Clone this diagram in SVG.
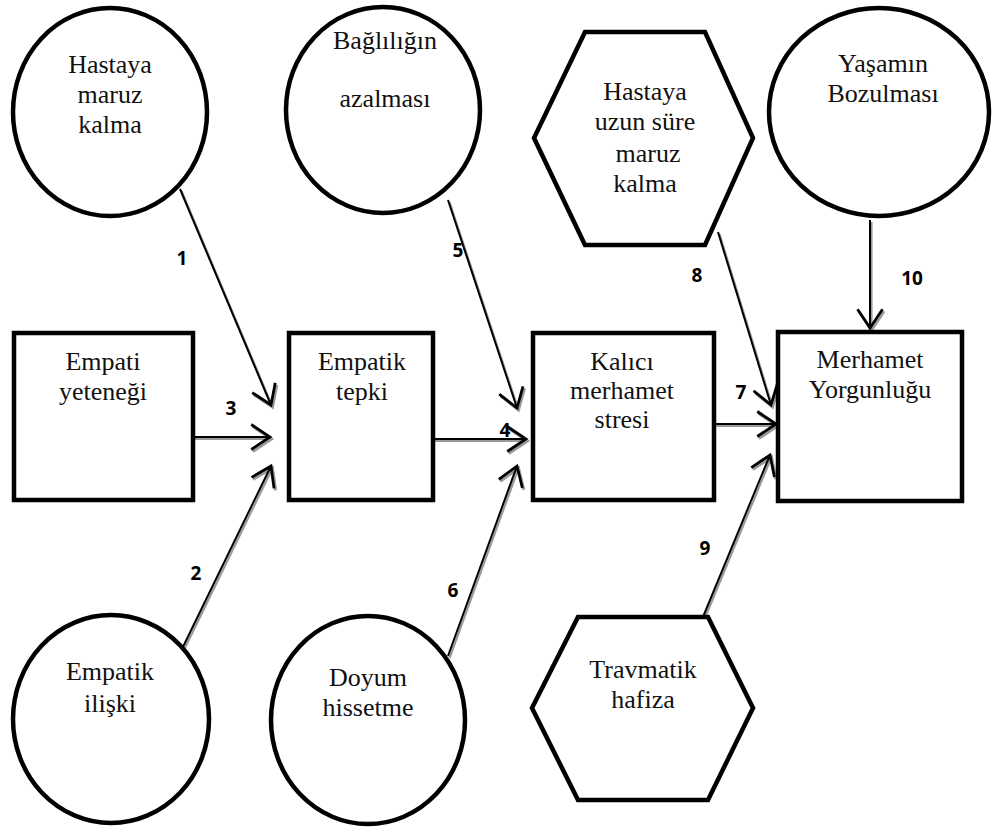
<svg xmlns="http://www.w3.org/2000/svg" width="992" height="827" viewBox="0 0 992 827">
<defs>
<style>
.shape{fill:#fff;stroke:#000;stroke-width:4.5}
.t{font-family:"Liberation Serif","Times New Roman",serif;font-size:26px;fill:#111;text-anchor:middle}
.n{font-family:"Open Sans","Liberation Sans",sans-serif;font-size:19px;font-weight:bold;fill:#000;text-anchor:middle}
.a{stroke:#000;stroke-width:2;fill:none;marker-end:url(#ah)}
.s{stroke:#9a9a9a;stroke-width:2.2;fill:none;marker-end:url(#ahs)}
</style>
<marker id="ah" markerUnits="userSpaceOnUse" markerWidth="30" markerHeight="30" viewBox="-16 -12 20 24" refX="0" refY="0" orient="auto">
<path d="M-15,-10 L0,0 L-15,10" fill="none" stroke="#000" stroke-width="2.2"/>
</marker>
<marker id="ahs" markerUnits="userSpaceOnUse" markerWidth="30" markerHeight="30" viewBox="-16 -12 20 24" refX="0" refY="0" orient="auto">
<path d="M-15,-10 L0,0 L-15,10" fill="none" stroke="#9a9a9a" stroke-width="2.4"/>
</marker>
</defs>
<rect width="992" height="827" fill="#fff"/>

<g id="connectors">
<g transform="translate(1.5,2)">
<line class="s" x1="180" y1="189" x2="271" y2="405"/>
<line class="s" x1="181" y1="651" x2="271" y2="466"/>
<line class="s" x1="190" y1="437" x2="270" y2="437"/>
<line class="s" x1="433" y1="439" x2="526" y2="439"/>
<line class="s" x1="448" y1="200" x2="517" y2="408"/>
<line class="s" x1="448" y1="656" x2="517" y2="466"/>
<line class="s" x1="715" y1="424" x2="776" y2="424"/>
<line class="s" x1="718" y1="232" x2="771" y2="405"/>
<line class="s" x1="703" y1="617" x2="770" y2="455"/>
<line class="s" x1="870" y1="220" x2="870" y2="328"/>
</g>
<line class="a" x1="180" y1="189" x2="271" y2="405"/>
<line class="a" x1="181" y1="651" x2="271" y2="466"/>
<line class="a" x1="190" y1="437" x2="270" y2="437"/>
<line class="a" x1="433" y1="439" x2="526" y2="439"/>
<line class="a" x1="448" y1="200" x2="517" y2="408"/>
<line class="a" x1="448" y1="656" x2="517" y2="466"/>
<line class="a" x1="715" y1="424" x2="776" y2="424"/>
<line class="a" x1="718" y1="232" x2="771" y2="405"/>
<line class="a" x1="703" y1="617" x2="770" y2="455"/>
<line class="a" x1="870" y1="220" x2="870" y2="328"/>
<text class="n" x="182" y="265">1</text>
<text class="n" x="196" y="580">2</text>
<text class="n" x="231" y="415">3</text>
<text class="n" x="505" y="437">4</text>
<text class="n" x="458" y="257">5</text>
<text class="n" x="453" y="597">6</text>
<text class="n" x="741" y="399">7</text>
<text class="n" x="697" y="282">8</text>
<text class="n" x="705" y="555">9</text>
<text class="n" x="912" y="285">10</text>
</g>

<g id="n-hastaya-maruz">
<ellipse class="shape" cx="110" cy="112" rx="97" ry="104"/>
<text class="t" x="110" y="73">Hastaya</text>
<text class="t" x="110" y="103">maruz</text>
<text class="t" x="110" y="133">kalma</text>
</g>
<g id="n-baglilik">
<ellipse class="shape" cx="383" cy="110" rx="97" ry="103"/>
<text class="t" x="385" y="49">Bağlılığın</text>
<text class="t" x="385" y="107">azalması</text>
</g>
<g id="n-uzun-sure">
<polygon class="shape" points="585,32 705,32 753,138 705,245 585,245 534,138"/>
<text class="t" x="645" y="100">Hastaya</text>
<text class="t" x="645" y="130">uzun süre</text>
<text class="t" x="648" y="162">maruz</text>
<text class="t" x="645" y="192">kalma</text>
</g>
<g id="n-yasamin">
<ellipse class="shape" cx="879" cy="112" rx="110" ry="104"/>
<text class="t" x="883" y="72">Yaşamın</text>
<text class="t" x="883" y="102">Bozulması</text>
</g>
<g id="n-empati-yetenegi">
<rect class="shape" x="14" y="333" width="179" height="167"/>
<text class="t" x="103" y="370">Empati</text>
<text class="t" x="103" y="400">yeteneği</text>
</g>
<g id="n-empatik-tepki">
<rect class="shape" x="289" y="333" width="144" height="167"/>
<text class="t" x="362" y="370">Empatik</text>
<text class="t" x="362" y="400">tepki</text>
</g>
<g id="n-kalici">
<rect class="shape" x="533" y="333" width="181" height="167"/>
<text class="t" x="622" y="370">Kalıcı</text>
<text class="t" x="622" y="399">merhamet</text>
<text class="t" x="622" y="428">stresi</text>
</g>
<g id="n-merhamet">
<rect class="shape" x="778" y="332" width="184" height="169"/>
<text class="t" x="870" y="368">Merhamet</text>
<text class="t" x="870" y="398">Yorgunluğu</text>
</g>
<g id="n-empatik-iliski">
<ellipse class="shape" cx="111" cy="719" rx="98" ry="104"/>
<text class="t" x="110" y="680">Empatik</text>
<text class="t" x="110" y="712">ilişki</text>
</g>
<g id="n-doyum">
<ellipse class="shape" cx="368" cy="720" rx="97" ry="104"/>
<text class="t" x="368" y="686">Doyum</text>
<text class="t" x="368" y="716">hissetme</text>
</g>
<g id="n-travmatik">
<polygon class="shape" points="578,617 708,617 753,708 708,800 578,800 532,708"/>
<text class="t" x="643" y="678">Travmatik</text>
<text class="t" x="643" y="708">hafiza</text>
</g>
</svg>
